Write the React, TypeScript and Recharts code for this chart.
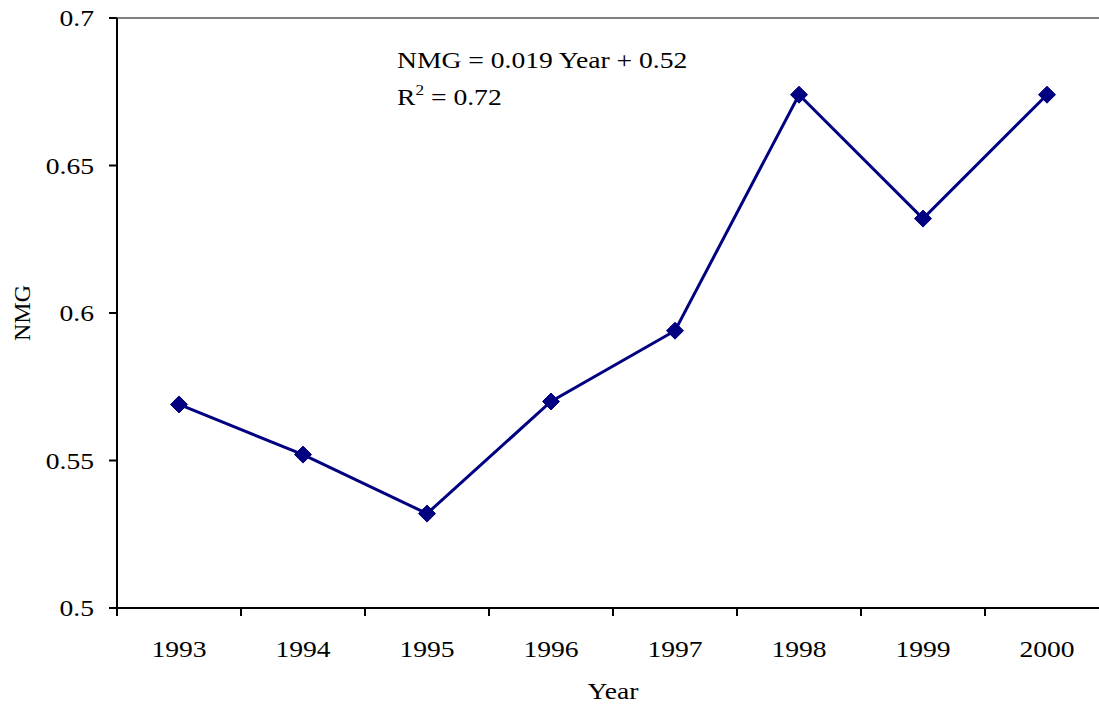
import React from 'react';
import { LineChart, Line, XAxis, YAxis, ReferenceLine, Label, Customized } from 'recharts';

const years = [1993, 1994, 1995, 1996, 1997, 1998, 1999, 2000];
const nmg = [0.569, 0.552, 0.532, 0.570, 0.594, 0.674, 0.632, 0.674];
const yTicks = [0.5, 0.55, 0.6, 0.65, 0.7];
const equationLine = 'NMG = 0.019 Year + 0.52';
const r2Value = '0.72';

const data = years.map((year, i) => ({ year, nmg: nmg[i] }));
const boundaryTicks = [...years.map((y) => y - 0.5), years[years.length - 1] + 0.5];
const xDomain = [years[0] - 0.5, years[years.length - 1] + 0.5];

const FONT = '"Liberation Serif", "Times New Roman", serif';
const NAVY = '#000080';
const FS = 24;
const SX = 1.15;

const Diamond = (props: any) => {
  const { cx, cy } = props;
  if (cx == null || cy == null) return null;
  const r = 8.5;
  return (
    <polygon
      points={`${cx},${cy - r} ${cx + r},${cy} ${cx},${cy + r} ${cx - r},${cy}`}
      fill={NAVY}
      stroke={NAVY}
      strokeWidth={1}
    />
  );
};

const StretchText = ({ x, y, anchor, children }: any) => (
  <g transform={`translate(${x},${y}) scale(${SX},1)`}>
    <text x={0} y={0} textAnchor={anchor} fontFamily={FONT} fontSize={FS} fill="#000">
      {children}
    </text>
  </g>
);

const XTick = (props: any) => {
  const { x, y, payload } = props;
  return <StretchText x={x} y={y + 19} anchor="middle">{payload.value}</StretchText>;
};

const YTick = (props: any) => {
  const { x, y, payload } = props;
  return <StretchText x={x} y={y + 8} anchor="end">{payload.value}</StretchText>;
};

const Equation = () => (
  <g>
    <StretchText x={397} y={68} anchor="start">{equationLine}</StretchText>
    <g transform={`translate(397,105) scale(${SX},1)`}>
      <text x={0} y={0} fontFamily={FONT} fontSize={FS} fill="#000">
        R
        <tspan fontSize={15} dy={-10}>2</tspan>
        <tspan dy={10}>{` = ${r2Value}`}</tspan>
      </text>
    </g>
  </g>
);

export default function App() {
  return (
    <div style={{ position: 'absolute', left: 0, top: 0, width: 1099, height: 704, overflow: 'hidden', background: '#fff' }}>
      <LineChart
        width={1112}
        height={704}
        data={data}
        margin={{ top: 18, right: 3, left: 0, bottom: 0 }}
      >
        <XAxis
          xAxisId="a_ticks"
          type="number"
          dataKey="year"
          domain={xDomain}
          ticks={boundaryTicks}
          tickFormatter={() => ''}
          height={1}
          tickSize={8}
          stroke="#000"
          strokeWidth={2}
          axisLine={{ stroke: '#000', strokeWidth: 2 }}
          tickLine={{ stroke: '#000', strokeWidth: 2 }}
          allowDataOverflow
        />
        <XAxis
          xAxisId="b_labels"
          type="number"
          dataKey="year"
          domain={xDomain}
          ticks={years}
          height={95}
          axisLine={false}
          tickLine={false}
          tickSize={0}
          tickMargin={29}
          tick={<XTick />}
          allowDataOverflow
        >
          <Label
            content={(p: any) => {
              const vb = p.viewBox;
              return <StretchText x={vb.x + vb.width / 2} y={699} anchor="middle">Year</StretchText>;
            }}
          />
        </XAxis>
        <YAxis
          type="number"
          domain={[0.5, 0.7]}
          ticks={yTicks}
          width={117}
          tickSize={8}
          tickMargin={15}
          stroke="#000"
          strokeWidth={2}
          tickLine={{ stroke: '#000', strokeWidth: 2 }}
          tick={<YTick />}
          allowDataOverflow
        >
          <Label
            content={(p: any) => {
              const vb = p.viewBox;
              const cx = 22;
              const cy = vb.y + vb.height / 2;
              return (
                <text x={cx} y={cy} transform={`rotate(-90 ${cx} ${cy})`} textAnchor="middle" dominantBaseline="central" fontFamily={FONT} fontSize={FS} fill="#000">
                  NMG
                </text>
              );
            }}
          />
        </YAxis>
        <ReferenceLine xAxisId="a_ticks" y={0.7} stroke="#808080" strokeWidth={2} />
        <Line
          xAxisId="a_ticks"
          type="linear"
          dataKey="nmg"
          stroke={NAVY}
          strokeWidth={3}
          dot={<Diamond />}
          activeDot={false}
          isAnimationActive={false}
        />
        <Customized component={Equation} />
      </LineChart>
    </div>
  );
}
